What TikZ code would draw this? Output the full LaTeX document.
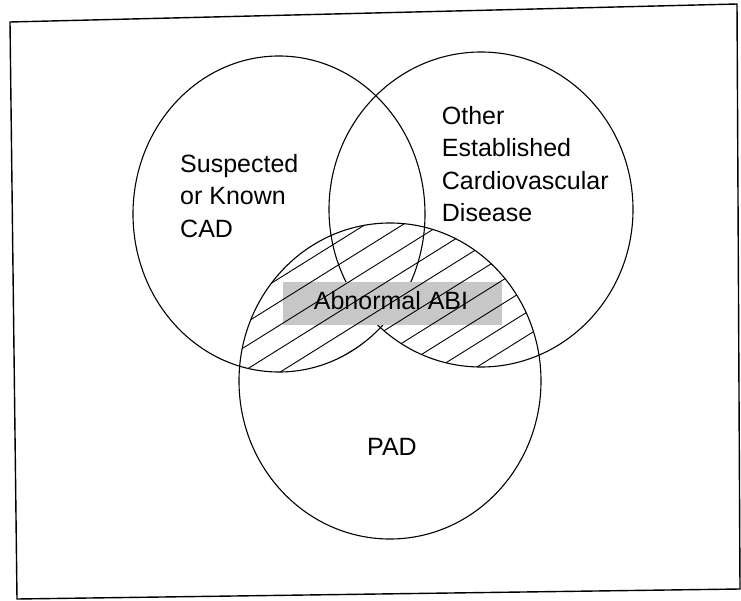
\documentclass[tikz,border=0pt]{standalone}
\usepackage{fontspec}
\setmainfont{Liberation Sans}
\begin{document}
\begin{tikzpicture}[x=1pt,y=-1pt,
  ring/.style={line width=1.1pt},
  hatchline/.style={line width=0.9pt},
  lbl/.style={font=\fontsize{25}{32.5}\selectfont, align=left, inner sep=0pt, anchor=north west},
  single/.style={font=\fontsize{25}{30}\selectfont, inner sep=0pt, anchor=base},
]
\useasboundingbox (0,0) rectangle (741,601);
\fill[white] (0,0) rectangle (741,601);
% frame
\draw[line width=1.4pt, line join=miter] (10,22) -- (737,4) -- (740,589) -- (17,599) -- cycle;
% circles
\draw[ring] (279,214) ellipse [x radius=146pt, y radius=158pt];
\draw[ring] (481,209.5) ellipse [x radius=152pt, y radius=157.5pt];
\draw[ring] (390,381) ellipse [x radius=151pt, y radius=158pt];
% grey label box
\node[name=abibox, fill=black!22, minimum width=219pt, minimum height=43pt, inner sep=0pt] at (392.5,303.5) {};
% hatching of PAD that overlaps the other two sets
\begin{scope}
  \clip (390,381) ellipse [x radius=151pt, y radius=158pt];
  \clip (279,214) ellipse [x radius=146pt, y radius=158pt] (481,209.5) ellipse [x radius=152pt, y radius=157.5pt];
  \foreach \c in {384,404,...,564}
    \draw[hatchline] (200,{(\c-0.53*200)/0.848}) -- (620,{(\c-0.53*620)/0.848});
\end{scope}
% labels
\node[lbl, name=cad] at (180,153.7) {Suspected\\or Known\\CAD};
\node[lbl, name=other] at (441.7,105.7) {Other\\Established\\Cardiovascular\\Disease};
\node[single, name=abi] at (391,309) {Abnormal ABI};
\node[single, name=pad] at (392,455) {PAD};
\end{tikzpicture}
\end{document}
